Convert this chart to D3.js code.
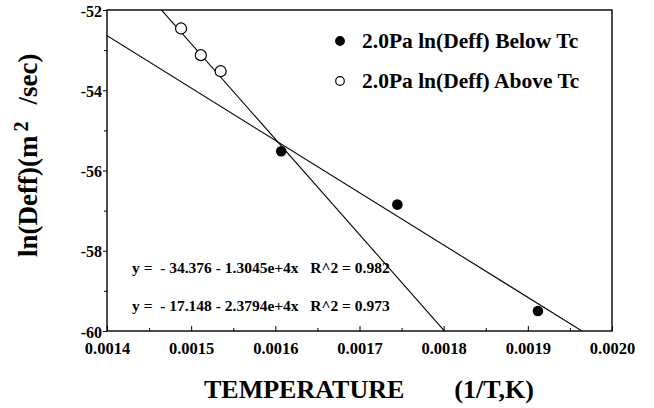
<!DOCTYPE html>
<html>
<head>
<meta charset="utf-8">
<script src="https://cdn.jsdelivr.net/npm/d3@7"></script>
<style>
  body { margin: 0; background: #fff; }
  text { font-family: "Liberation Serif", "Times New Roman", serif; font-weight: bold; fill: #000; white-space: pre; }
  .tick text { font-family: "Liberation Serif", serif !important; font-weight: 700 !important; }
</style>
</head>
<body>
<div id="chart"></div>
<script>
// data
const belowTcX = [0.001607, 0.001745, 0.001912];
const belowTcY = [-55.52, -56.85, -59.5];
const aboveTcX = [0.001488, 0.0015115, 0.001535];
const aboveTcY = [-52.46, -53.125, -53.525];

// fitted lines: y = a + b x
const fitIntercepts = [-34.376, -17.148];
const fitSlopes = [-1.3045e4, -2.3794e4];
const fitLabels = [
  'y =  - 34.376 - 1.3045e+4x   R^2 = 0.982',
  'y =  - 17.148 - 2.3794e+4x   R^2 = 0.973'
];

const legendLabels = ['2.0Pa ln(Deff) Below Tc', '2.0Pa ln(Deff) Above Tc'];
const xTicks = [0.0014, 0.0015, 0.0016, 0.0017, 0.0018, 0.0019, 0.0020];
const xMinorTicks = [0.00145, 0.00155, 0.00165, 0.00175, 0.00185, 0.00195];
const yTicks = [-60, -58, -56, -54, -52];
const yMinorTicks = [-59, -57, -55, -53];

const width = 654;
const height = 408;
const margin = { top: 10, right: 42, bottom: 77, left: 107 };

const svg = d3.select('#chart').append('svg')
  .attr('width', width)
  .attr('height', height);

const x = d3.scaleLinear().domain([0.0014, 0.0020]).range([margin.left, width - margin.right]);
const y = d3.scaleLinear().domain([-60, -52]).range([height - margin.bottom, margin.top]);

// clip for fit lines
svg.append('clipPath').attr('id', 'plot')
  .append('rect')
  .attr('x', x(0.0014)).attr('y', y(-52))
  .attr('width', x(0.0020) - x(0.0014)).attr('height', y(-60) - y(-52));

// frame
svg.append('rect')
  .attr('x', x(0.0014)).attr('y', y(-52))
  .attr('width', x(0.0020) - x(0.0014)).attr('height', y(-60) - y(-52))
  .attr('fill', 'none').attr('stroke', '#000').attr('stroke-width', 1.4);

// x axis, ticks inside
const xAxis = svg.append('g')
  .attr('transform', `translate(0,${y(-60)})`)
  .call(d3.axisBottom(x).tickValues(xTicks).tickFormat(d3.format('.4f')).tickSize(-5).tickPadding(11));
xAxis.attr('font-family', null).attr('font-size', null);
xAxis.select('.domain').remove();
xAxis.selectAll('text').attr('font-size', 16.5);
svg.append('g')
  .attr('transform', `translate(0,${y(-60)})`)
  .call(d3.axisBottom(x).tickValues(xMinorTicks).tickSize(-3).tickFormat(''))
  .select('.domain').remove();

// y axis, ticks outside
const yAxis = svg.append('g')
  .attr('transform', `translate(${x(0.0014)},0)`)
  .call(d3.axisLeft(y).tickValues(yTicks).tickFormat(d => String(d)).tickSize(4).tickPadding(1));
yAxis.attr('font-family', null).attr('font-size', null);
yAxis.select('.domain').remove();
yAxis.selectAll('text').attr('dy', '0.38em').attr('font-size', 16);
svg.append('g')
  .attr('transform', `translate(${x(0.0014)},0)`)
  .call(d3.axisLeft(y).tickValues(yMinorTicks).tickSize(3).tickFormat(''))
  .select('.domain').remove();

// fit lines
const line = d3.line().x(d => x(d[0])).y(d => y(d[1]));
const fits = svg.append('g').attr('clip-path', 'url(#plot)');
fitIntercepts.forEach((a, i) => {
  const pts = [0.0013, 0.0021].map(v => [v, a + fitSlopes[i] * v]);
  fits.append('path')
    .attr('d', line(pts))
    .attr('fill', 'none')
    .attr('stroke', '#000')
    .attr('stroke-width', 1.1);
});

// points
svg.append('g').selectAll('circle')
  .data(aboveTcX.map((v, i) => [v, aboveTcY[i]]))
  .join('circle')
  .attr('cx', d => x(d[0])).attr('cy', d => y(d[1]))
  .attr('r', 5.5).attr('fill', '#fff').attr('stroke', '#000').attr('stroke-width', 1.2);
svg.append('g').selectAll('circle')
  .data(belowTcX.map((v, i) => [v, belowTcY[i]]))
  .join('circle')
  .attr('cx', d => x(d[0])).attr('cy', d => y(d[1]))
  .attr('r', 5.3).attr('fill', '#000');

// legend
const legend = svg.append('g');
legendLabels.forEach((t, i) => {
  const ly = 41 + i * 40;
  legend.append('circle')
    .attr('cx', 340).attr('cy', ly).attr('r', 4.3)
    .attr('fill', i === 0 ? '#000' : '#fff')
    .attr('stroke', '#000').attr('stroke-width', 1.2);
  legend.append('text')
    .attr('x', 362).attr('y', ly + 7)
    .attr('font-size', 21.5)
    .text(t);
});

// equation labels
fitLabels.forEach((t, i) => {
  svg.append('text')
    .attr('x', 132).attr('y', 273 + i * 38)
    .attr('font-size', 15.5)
    .text(t);
});

// axis titles
const xTitle = svg.append('text')
  .attr('x', 204).attr('y', 398)
  .attr('font-size', 26);
xTitle.append('tspan').text('TEMPERATURE');
xTitle.append('tspan').attr('dx', 50).text('(1/T,K)');

const yTitle = svg.append('text')
  .attr('transform', 'translate(37,257) rotate(-90)')
  .attr('font-size', 27);
yTitle.append('tspan').text('ln(Deff)(m');
yTitle.append('tspan').attr('dx', 4).attr('dy', -9).attr('font-size', 20).text('2');
yTitle.append('tspan').attr('dx', 17).attr('dy', 9).text('/sec)');
</script>
</body>
</html>
